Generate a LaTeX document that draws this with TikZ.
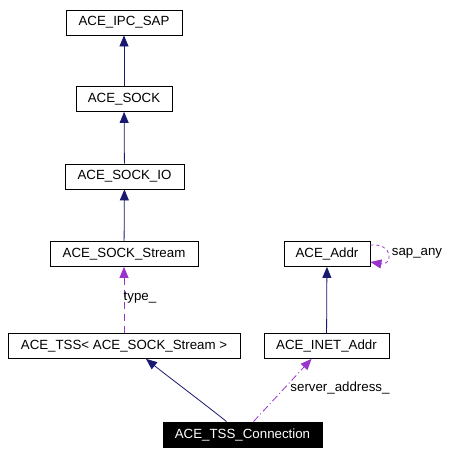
\documentclass[tikz,border=0pt]{standalone}
\usepackage{fontspec}
\setmainfont{Liberation Sans}
\usetikzlibrary{arrows.meta}
\definecolor{edgeblue}{HTML}{191970}
\definecolor{edgepurple}{HTML}{9A32CD}
\begin{document}
\begin{tikzpicture}[x=1pt,y=-1pt,
  cls/.style={draw=black,line width=0.8pt,rectangle,minimum height=25pt,inner sep=0pt,font=\fontsize{13.3}{16}\selectfont},
  cur/.style={cls,fill=black,text=white},
  inh/.style={draw=edgeblue,line width=0.8pt,-{Triangle[length=11pt,width=9pt,fill=edgeblue]}},
  use/.style={draw=edgepurple,line width=0.8pt,-{Triangle[length=11pt,width=9pt,fill=edgepurple]}},
  lbl/.style={font=\fontsize{13.3}{16}\selectfont,inner sep=0pt}]
\useasboundingbox (0,0) rectangle (451,455);
\node[cls,minimum width=116pt] (ipc) at (124,22.5) {ACE\_IPC\_SAP};
\node[cls,minimum width=96pt] (sock) at (124,99) {ACE\_SOCK};
\node[cls,minimum width=119pt] (sockio) at (124.5,176.5) {ACE\_SOCK\_IO};
\node[cls,minimum width=148pt] (stream) at (124,254) {ACE\_SOCK\_Stream};
\node[cls,minimum width=86pt] (addr) at (327,254) {ACE\_Addr};
\node[cls,minimum width=232pt] (tss) at (124,346) {ACE\_TSS< ACE\_SOCK\_Stream >};
\node[cls,minimum width=125pt] (inet) at (326.5,346) {ACE\_INET\_Addr};
\node[cur,minimum width=159pt] (conn) at (242.5,434.5) {ACE\_TSS\_Connection};
\draw[inh] (sock) -- (ipc);
\draw[inh] (sockio) -- (sock);
\draw[inh] (stream) -- (sockio);
\draw[inh] (inet) -- (addr);
\draw[use,dash pattern=on 7pt off 5pt] (tss.north) -- (stream.south);
\node[lbl] (tlab) at (140,298) {type\_};
\draw[use,dash pattern=on 3pt off 3pt] ([yshift=9pt]addr.east) .. controls +(24,-2) and +(22,4) .. ([yshift=-8pt]addr.east);
\node[lbl] (slab) at (417,253) {sap\_any};
\draw[inh] ([xshift=-16pt]conn.north) .. controls +(-12,-10) and +(20,16) .. ([xshift=22pt]tss.south);
\draw[use,dash pattern=on 7pt off 3pt on 1pt off 3pt] ([xshift=11pt]conn.north) -- ([xshift=-15pt]inet.south);
\node[lbl] (salab) at (340,388) {server\_address\_};
\end{tikzpicture}
\end{document}
